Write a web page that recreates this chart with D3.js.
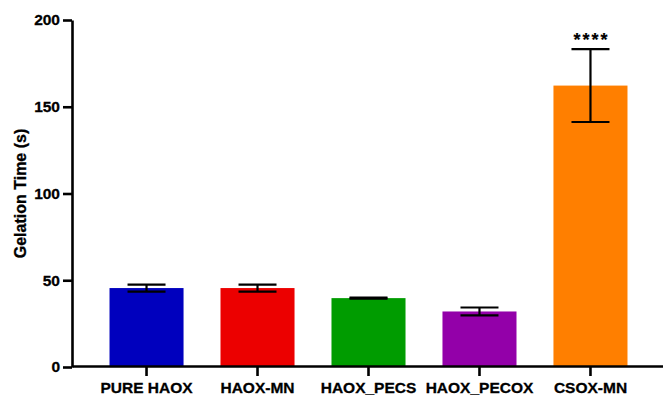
<!DOCTYPE html>
<html>
<head>
<meta charset="utf-8">
<script src="https://cdn.jsdelivr.net/npm/d3@7"></script>
<style>
  html, body { margin: 0; padding: 0; background: #fff; }
  svg { display: block; }
  text { font-family: "Liberation Sans", Arial, Helvetica, sans-serif; font-weight: bold; fill: #000; stroke: #000; stroke-width: 0.3px; }
</style>
</head>
<body>
<svg id="chart" width="663" height="397"></svg>
<script>
// Gelation time of each formulation (mean ± SD, seconds)
const categories = ["PURE HAOX", "HAOX-MN", "HAOX_PECS", "HAOX_PECOX", "CSOX-MN"];
const means = [45.5, 45.5, 39.7, 32.0, 162.2];
const errors = [2.0, 2.0, 0.3, 2.3, 21.0];
const colors = ["#0000BE", "#EC0000", "#009C00", "#9300A9", "#FF7F00"];
const yTicks = [0, 50, 100, 150, 200];
const significance = ["", "", "", "", "****"];

const svg = d3.select("#chart");
const plotLeft = 72, plotRight = 665, plotTop = 20, plotBottom = 367;

const x = d3.scaleBand()
  .domain(categories)
  .range([plotLeft, plotRight])
  .paddingInner(0.333)
  .paddingOuter(0.338);

const y = d3.scaleLinear().domain([0, 200]).range([plotBottom, plotTop]);

const data = categories.map((c, i) => ({
  cat: c, mean: means[i], err: errors[i], color: colors[i], sig: significance[i]
}));

// Bars
svg.append("g").selectAll("rect")
  .data(data)
  .join("rect")
  .attr("x", d => x(d.cat))
  .attr("y", d => y(d.mean))
  .attr("width", x.bandwidth())
  .attr("height", d => y(0) - y(d.mean))
  .attr("fill", d => d.color);

// Error bars
const capHalf = 19;
const eb = svg.append("g")
  .attr("stroke", "#000")
  .attr("stroke-width", 2.2)
  .attr("fill", "none");
data.forEach(d => {
  const cx = x(d.cat) + x.bandwidth() / 2;
  const g = eb.append("g");
  g.append("line")
    .attr("x1", cx).attr("x2", cx)
    .attr("y1", y(d.mean + d.err)).attr("y2", y(d.mean - d.err));
  g.append("line")
    .attr("x1", cx - capHalf).attr("x2", cx + capHalf)
    .attr("y1", y(d.mean + d.err)).attr("y2", y(d.mean + d.err));
  g.append("line")
    .attr("x1", cx - capHalf).attr("x2", cx + capHalf)
    .attr("y1", y(d.mean - d.err)).attr("y2", y(d.mean - d.err));
});

// Significance markers
svg.append("g").selectAll("text.sig")
  .data(data.filter(d => d.sig))
  .join("text")
  .attr("class", "sig")
  .attr("x", d => x(d.cat) + x.bandwidth() / 2 + 1)
  .attr("y", d => y(d.mean + d.err) - 3)
  .attr("text-anchor", "middle")
  .style("font-size", "18px")
  .style("letter-spacing", "2px")
  .style("stroke-width", "0.2px")
  .text(d => d.sig);

// Y axis
const yAxis = svg.append("g")
  .attr("transform", `translate(${plotLeft},0)`)
  .call(d3.axisLeft(y).tickValues(yTicks).tickSize(9).tickPadding(3).tickSizeOuter(0));
yAxis.select(".domain").attr("stroke-width", 2.6);
yAxis.selectAll(".tick line").attr("stroke-width", 2.6);
yAxis.selectAll(".tick text").style("font-size", "15.5px").attr("font-family", null).attr("fill", null);

// X axis
const xAxis = svg.append("g")
  .attr("transform", `translate(0,${plotBottom - 1})`)
  .call(d3.axisBottom(x).tickSize(10).tickPadding(6).tickSizeOuter(0));
xAxis.select(".domain").attr("stroke-width", 2.6);
xAxis.selectAll(".tick line").attr("stroke-width", 2.6);
xAxis.selectAll(".tick text").style("font-size", "15.5px").attr("font-family", null).attr("fill", null);

// Y axis title
svg.append("text")
  .attr("transform", `translate(26,${(plotTop + plotBottom) / 2}) rotate(-90)`)
  .attr("text-anchor", "middle")
  .style("font-size", "16px")
  .text("Gelation Time (s)");
</script>
</body>
</html>
